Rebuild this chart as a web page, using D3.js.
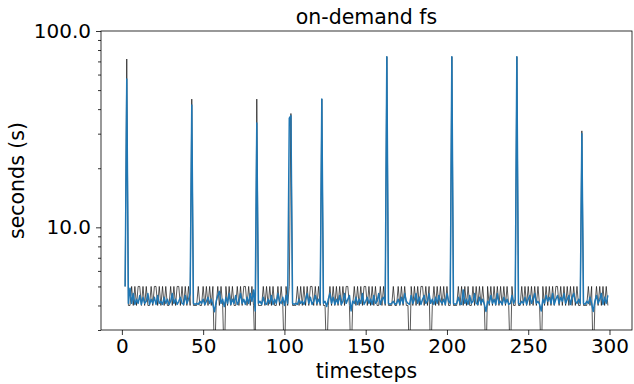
<!DOCTYPE html>
<html>
<head>
<meta charset="utf-8">
<script src="https://cdn.jsdelivr.net/npm/d3@7"></script>
<style>
  html, body { margin: 0; padding: 0; background: #fff; }
  svg { display: block; font-family: "DejaVu Sans", sans-serif; }
</style>
</head>
<body>
<svg id="chart" width="634" height="384"></svg>
<script>
// first timestep of both series
const startStep = 2;

// wall-clock seconds, whole-second resolution (t = 2 .. 299, rows of ten)
const wholeSeconds = [
  5, 72, 4, 4, 5, 4, 5, 4, 5, 5,
  4, 5, 4, 5, 4, 4, 5, 4, 5, 5,
  4, 5, 4, 5, 4, 5, 4, 4, 5, 4,
  5, 4, 5, 5, 4, 5, 4, 5, 4, 5,
  4, 45, 4, 4, 4, 5, 4, 4, 5, 4,
  5, 4, 5, 4, 5, 2, 4, 5, 4, 5,
  4, 2, 5, 4, 5, 4, 5, 4, 4, 5,
  4, 5, 4, 5, 5, 4, 5, 4, 5, 4,
  2, 45, 4, 4, 4, 5, 4, 5, 4, 5,
  4, 5, 4, 4, 5, 4, 5, 4, 2, 5,
  4, 5, 38, 4, 4, 4, 5, 4, 5, 4,
  5, 4, 5, 4, 5, 5, 4, 5, 4, 5,
  4, 45, 4, 4, 2, 4, 5, 4, 5, 4,
  5, 4, 5, 4, 5, 4, 5, 5, 4, 2,
  4, 5, 4, 5, 4, 5, 4, 5, 5, 4,
  5, 4, 5, 4, 5, 4, 4, 5, 4, 5,
  4, 74, 4, 4, 4, 5, 4, 4, 5, 4,
  5, 4, 5, 4, 4, 2, 5, 4, 5, 4,
  5, 4, 5, 5, 4, 5, 4, 5, 2, 4,
  5, 4, 5, 4, 5, 4, 5, 4, 5, 4,
  4, 74, 4, 4, 4, 5, 4, 5, 4, 5,
  4, 5, 4, 4, 5, 4, 5, 4, 5, 4,
  5, 4, 2, 5, 4, 5, 4, 5, 4, 5,
  4, 5, 4, 5, 4, 5, 4, 2, 5, 4,
  4, 74, 4, 4, 5, 4, 5, 4, 5, 4,
  5, 4, 5, 4, 5, 4, 2, 5, 4, 5,
  4, 5, 4, 5, 4, 5, 5, 4, 5, 4,
  5, 4, 5, 4, 5, 4, 5, 4, 5, 4,
  4, 31, 4, 4, 4, 5, 4, 5, 2, 4,
  5, 4, 5, 4, 5, 4, 5, 4
];

// measured seconds per timestep (t = 2 .. 299, rows of ten)
const measuredSeconds = [
  5.0, 57, 4.1, 4.9, 4.1, 4.6, 4.05, 4.3, 4.1, 4.5,
  4.05, 4.4, 4.1, 4.2, 4.6, 4.05, 4.3, 4.1, 4.4, 4.05,
  4.5, 4.1, 4.2, 4.05, 4.4, 4.1, 4.3, 4.05, 4.2, 4.6,
  4.1, 4.3, 4.05, 4.2, 4.4, 4.1, 4.05, 4.5, 4.1, 4.3,
  4.6, 42, 4.1, 4.05, 4.1, 4.05, 4.2, 4.1, 4.3, 4.05,
  4.2, 4.4, 4.1, 4.3, 4.05, 3.72, 4.2, 4.5, 4.72, 4.1,
  4.3, 3.95, 4.4, 4.1, 4.6, 4.05, 4.3, 4.1, 4.5, 4.05,
  4.2, 4.6, 4.1, 4.3, 4.05, 4.4, 4.1, 4.6, 4.2, 4.8,
  3.75, 34, 4.1, 4.2, 4.05, 4.4, 4.1, 4.05, 4.3, 4.1,
  4.5, 4.05, 4.3, 4.1, 4.6, 4.2, 4.1, 4.4, 4.0, 4.5,
  4.1, 36, 37, 4.1, 4.05, 4.1, 4.05, 4.3, 4.1, 4.2,
  4.05, 4.3, 4.6, 4.1, 4.4, 4.05, 4.2, 4.5, 4.1, 4.3,
  4.1, 45, 4.1, 4.2, 3.95, 4.3, 4.6, 4.1, 4.4, 4.05,
  4.3, 4.1, 4.5, 4.05, 4.2, 4.6, 4.1, 4.3, 4.5, 3.75,
  4.2, 4.1, 4.4, 4.05, 4.3, 4.1, 4.6, 4.05, 4.2, 4.4,
  4.1, 4.3, 4.05, 4.5, 4.1, 4.2, 4.6, 4.05, 4.3, 4.4,
  4.1, 74, 4.1, 4.05, 4.1, 4.2, 4.05, 4.1, 4.3, 4.05,
  4.4, 4.1, 4.6, 4.2, 4.1, 4.05, 4.5, 4.1, 4.3, 4.6,
  4.1, 4.4, 4.05, 4.3, 4.5, 4.1, 4.2, 4.6, 4.1, 4.3,
  4.05, 4.4, 4.1, 4.5, 4.2, 4.1, 4.3, 4.05, 4.6, 4.2,
  4.1, 74, 4.1, 4.05, 4.1, 4.4, 4.1, 4.05, 4.8, 4.1,
  4.3, 4.05, 4.5, 4.1, 4.2, 4.6, 4.1, 4.05, 4.4, 4.1,
  4.3, 4.05, 3.73, 4.2, 4.1, 4.5, 4.1, 4.3, 4.05, 4.6,
  4.1, 4.2, 4.05, 4.4, 4.1, 4.3, 4.05, 4.1, 4.5, 4.1,
  4.3, 74, 4.1, 4.05, 4.2, 4.1, 4.4, 4.05, 4.3, 4.5,
  4.1, 4.3, 4.6, 4.1, 4.2, 4.05, 3.75, 4.3, 4.1, 4.5,
  4.2, 4.4, 4.1, 4.6, 4.05, 4.3, 4.5, 4.1, 4.4, 4.2,
  4.6, 4.1, 4.3, 4.5, 4.05, 4.4, 4.6, 4.2, 4.1, 4.3,
  4.1, 30, 4.1, 4.05, 4.2, 4.1, 4.4, 4.1, 3.73, 4.2,
  4.5, 4.1, 4.3, 4.6, 4.05, 4.4, 4.1, 4.5
];

const xTicks = [0, 50, 100, 150, 200, 250, 300];
const yTicks = [10, 100];
const yMinorTicks = [3, 4, 5, 6, 7, 8, 9, 20, 30, 40, 50, 60, 70, 80, 90];

const titleText = "on-demand fs";
const xLabel = "timesteps";
const yLabel = "seconds (s)";

const svg = d3.select("#chart");
const plot = { left: 101, right: 632, top: 31, bottom: 330 };

// x domain padded by 5% of the data span on each side
const lastStep = startStep + measuredSeconds.length - 1;
const pad = (lastStep - startStep) * 0.05;
const x = d3.scaleLinear()
  .domain([startStep - pad, lastStep + pad])
  .range([plot.left, plot.right]);

const y = d3.scaleLog()
  .domain([3, 100])
  .range([plot.bottom, plot.top]);

svg.append("defs").append("clipPath").attr("id", "plot-clip")
  .append("rect")
  .attr("x", plot.left).attr("y", plot.top)
  .attr("width", plot.right - plot.left)
  .attr("height", plot.bottom - plot.top);

const lineGen = d3.line()
  .x((d, i) => x(startStep + i))
  .y(d => y(d));

const lines = svg.append("g").attr("clip-path", "url(#plot-clip)");

lines.append("path")
  .datum(wholeSeconds)
  .attr("d", lineGen)
  .attr("fill", "none")
  .attr("stroke", "#111")
  .attr("stroke-width", 0.7)
  .attr("stroke-linejoin", "round");

lines.append("path")
  .datum(measuredSeconds)
  .attr("d", lineGen)
  .attr("fill", "none")
  .attr("stroke", "#1f77b4")
  .attr("stroke-width", 1.5)
  .attr("stroke-linejoin", "round");

// axes
const xAxis = d3.axisBottom(x)
  .tickValues(xTicks)
  .tickFormat(d3.format("d"))
  .tickSizeInner(5).tickSizeOuter(0).tickPadding(4);

const xg = svg.append("g")
  .attr("transform", `translate(0,${plot.bottom})`)
  .call(xAxis);

const yAxis = d3.axisLeft(y)
  .tickValues(yTicks)
  .tickFormat(d3.format(".1f"))
  .tickSizeInner(5).tickSizeOuter(0).tickPadding(5);

const yg = svg.append("g")
  .attr("transform", `translate(${plot.left},0)`)
  .call(yAxis);

const yMinor = svg.append("g")
  .attr("transform", `translate(${plot.left},0)`)
  .call(d3.axisLeft(y).tickValues(yMinorTicks).tickFormat("").tickSizeInner(3).tickSizeOuter(0));
yMinor.select(".domain").remove();

[xg, yg, yMinor].forEach(g => {
  g.selectAll("line").attr("stroke", "#000").attr("stroke-width", 0.8);
  g.selectAll("text")
    .attr("fill", "#000")
    .style("font-family", "'DejaVu Sans', sans-serif")
    .style("font-size", "20px");
});
xg.select(".domain").remove();
yg.select(".domain").remove();

// frame around the plot area
svg.append("rect")
  .attr("x", plot.left).attr("y", plot.top)
  .attr("width", plot.right - plot.left)
  .attr("height", plot.bottom - plot.top)
  .attr("fill", "none")
  .attr("stroke", "#000")
  .attr("stroke-width", 0.8);

// title and axis labels
svg.append("text")
  .attr("x", (plot.left + plot.right) / 2)
  .attr("y", 24)
  .attr("text-anchor", "middle")
  .style("font-size", "20.5px")
  .text(titleText);

svg.append("text")
  .attr("x", (plot.left + plot.right) / 2)
  .attr("y", 378)
  .attr("text-anchor", "middle")
  .style("font-size", "20.5px")
  .text(xLabel);

svg.append("text")
  .attr("transform", `translate(24,${(plot.top + plot.bottom) / 2}) rotate(-90)`)
  .attr("text-anchor", "middle")
  .style("font-size", "20.5px")
  .text(yLabel);
</script>
</body>
</html>
